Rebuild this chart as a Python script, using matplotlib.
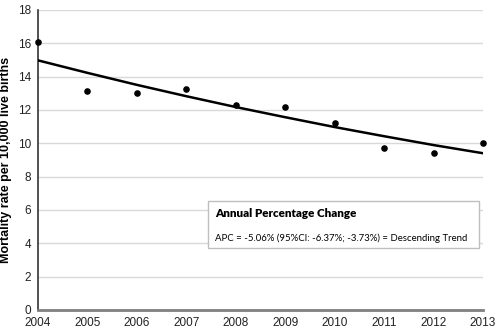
import numpy as np
import matplotlib.pyplot as plt
from matplotlib.patches import Rectangle

years = [2004, 2005, 2006, 2007, 2008, 2009, 2010, 2011, 2012, 2013]
observed = [16.05, 13.15, 13.0, 13.28, 12.3, 12.15, 11.22, 9.72, 9.4, 10.04]
trend = [14.97, 14.22, 13.50, 12.82, 12.17, 11.56, 10.97, 10.42, 9.89, 9.40]
y_ticks = [0, 2, 4, 6, 8, 10, 12, 14, 16, 18]

plt.rcParams['font.family'] = ['Liberation Sans', 'DejaVu Sans']

fig = plt.figure(figsize=(5, 3.28), dpi=100)
ax = fig.add_axes([0.076, 0.055, 0.89, 0.915])

ax.plot(years, trend, color='black', lw=1.8, zorder=3)
ax.scatter(years, observed, s=14, color='black', zorder=4, clip_on=False)

ax.set_xlim(2004, 2013)
ax.set_ylim(0, 18)
ax.set_xticks(years)
ax.set_yticks(y_ticks)
ax.tick_params(length=0, labelsize=8.5, colors='#222222')
ax.tick_params(axis='y', pad=5)
ax.tick_params(axis='x', pad=5)
ax.grid(axis='y', color='#d9d9d9', lw=1)
ax.set_axisbelow(True)
for s in ['top', 'right']:
    ax.spines[s].set_visible(False)
ax.spines['left'].set_color('#333333')
ax.spines['left'].set_linewidth(1.2)
ax.spines['bottom'].set_color('#7f7f7f')
ax.spines['bottom'].set_linewidth(2)
ax.set_ylabel('Mortality rate per 10,000 live births', fontsize=9,
              fontweight='bold', labelpad=4)

# annotation box
box = Rectangle((0.382, 0.205), 0.61, 0.157, transform=ax.transAxes,
                facecolor='white', edgecolor='#bfbfbf', lw=1, zorder=5)
ax.add_patch(box)
ax.text(0.398, 0.322, 'Annual Percentage Change', transform=ax.transAxes,
        fontsize=8.4, fontweight='heavy', family=['Lato', 'DejaVu Sans'],
        va='center', zorder=6)
ax.text(0.398, 0.24, 'APC = -5.06% (95%CI: -6.37%; -3.73%) = Descending Trend',
        transform=ax.transAxes, fontsize=6.95, family=['Lato', 'DejaVu Sans'],
        va='center', zorder=6)

fig.savefig('out.png', dpi=100)
